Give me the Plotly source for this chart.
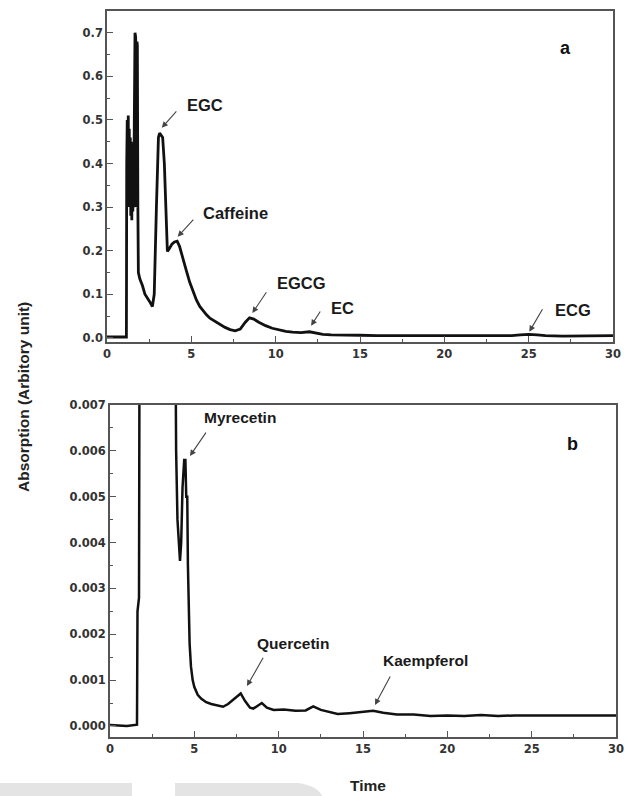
import plotly.graph_objects as go

W, H = 631, 796

# ---------------- data ----------------
time_a = [0, 1.0, 1.15, 1.17, 1.20, 1.23, 1.26, 1.29, 1.32, 1.35, 1.38, 1.41, 1.44, 1.47, 1.50,
          1.53, 1.56, 1.58, 1.60, 1.62, 1.66, 1.70, 1.74, 1.78, 1.80, 1.83, 1.86, 1.95, 2.1,
          2.25, 2.4, 2.55, 2.69, 2.8, 2.93, 3.05, 3.12, 3.2, 3.3, 3.4, 3.5, 3.58, 3.7, 3.85,
          4.0, 4.16, 4.3, 4.5, 4.7, 4.9, 5.1, 5.3, 5.5, 5.7, 5.9, 6.1, 6.4, 6.7, 7.0, 7.3,
          7.6, 7.9, 8.2, 8.45, 8.7, 9.0, 9.4, 9.8, 10.2, 10.6, 11.0, 11.5, 12.0, 12.4, 12.8,
          13.3, 14, 15, 16, 17, 18, 19, 20, 21, 22, 23, 24, 24.5, 25, 25.5, 26, 27, 28, 29, 30]
absorb_a = [0.002, 0.002, 0.002, 0.40, 0.50, 0.36, 0.51, 0.30, 0.48, 0.32, 0.46, 0.28, 0.45, 0.27,
            0.44, 0.29, 0.42, 0.30, 0.40, 0.70, 0.70, 0.69, 0.30, 0.68, 0.67, 0.30, 0.15, 0.135, 0.12,
            0.10, 0.092, 0.082, 0.072, 0.10, 0.30, 0.46, 0.47, 0.465, 0.46, 0.40, 0.27, 0.198, 0.205, 0.215,
            0.22, 0.222, 0.21, 0.185, 0.155, 0.128, 0.105, 0.087, 0.072, 0.062, 0.053, 0.045, 0.038, 0.030, 0.024, 0.019,
            0.016, 0.020, 0.036, 0.046, 0.043, 0.036, 0.028, 0.022, 0.018, 0.015, 0.013, 0.012, 0.014, 0.011, 0.008,
            0.007, 0.006, 0.006, 0.005, 0.005, 0.005, 0.004, 0.004, 0.005, 0.005, 0.004, 0.005, 0.007, 0.008, 0.007, 0.005, 0.004, 0.004, 0.004, 0.005]

time_b = [0, 1.0, 1.6, 1.63, 1.72, 1.75, 3.88, 3.92, 4.0, 4.1, 4.15, 4.22, 4.3, 4.4, 4.47,
          4.52, 4.58, 4.62, 4.66, 4.72, 4.8, 4.9, 5.0, 5.2, 5.4, 5.7, 6.0, 6.3, 6.7, 7.0,
          7.4, 7.75, 8.0, 8.3, 8.5, 8.75, 9.0, 9.3, 9.7, 10.3, 11.0, 11.6, 12.05, 12.5, 13.0,
          13.5, 14.2, 15.0, 15.6, 16.2, 17.0, 18, 19, 20, 21, 22, 23, 24, 25, 26, 27, 28, 29, 30]
absorb_b = [0.00002, 0.0, 0.00003, 0.0025, 0.0028, 0.0085, 0.0085, 0.0060, 0.0045, 0.0037, 0.0036, 0.0040, 0.0052, 0.0058, 0.0058,
            0.0050, 0.0050, 0.0035, 0.0025, 0.0018, 0.0013, 0.0010, 0.00085, 0.00068, 0.0006, 0.00052, 0.00048, 0.00045, 0.00042, 0.00048,
            0.0006, 0.00071, 0.00055, 0.0004, 0.00038, 0.00045, 0.0005, 0.0004, 0.00035, 0.00036, 0.00033, 0.00034, 0.00043, 0.00035, 0.0003,
            0.00026, 0.00028, 0.0003, 0.00033, 0.00029, 0.00025, 0.00025, 0.00022, 0.00023, 0.00022, 0.00024, 0.00022, 0.00023, 0.00023, 0.00022, 0.00022, 0.00023, 0.00022, 0.00023]

x_ticks = [0, 5, 10, 15, 20, 25, 30]
y_ticks_a = [0.0, 0.1, 0.2, 0.3, 0.4, 0.5, 0.6, 0.7]
y_ticklabels_a = ["0.0", "0.1", "0.2", "0.3", "0.4", "0.5", "0.6", "0.7"]
y_ticks_b = [0.000, 0.001, 0.002, 0.003, 0.004, 0.005, 0.006, 0.007]
y_ticklabels_b = ["0.000", "0.001", "0.002", "0.003", "0.004", "0.005", "0.006", "0.007"]

# peak labels: (text, text_x, text_y, tail_x, tail_y, head_x, head_y)
labels_a = [("EGC", 5.79, 0.534, 4.19, 0.523, 3.25, 0.482),
            ("Caffeine", 7.62, 0.287, 5.2, 0.275, 4.19, 0.232),
            ("EGCG", 11.52, 0.126, 9.51, 0.108, 8.62, 0.057),
            ("EC", 13.94, 0.069, 12.7, 0.064, 12.1, 0.028),
            ("ECG", 27.64, 0.064, 25.87, 0.069, 25.04, 0.014)]
labels_b = [("Myrecetin", 7.71, 0.00672, 5.75, 0.00643, 4.74, 0.00589),
            ("Quercetin", 10.85, 0.00180, 9.13, 0.00152, 8.12, 0.00087),
            ("Kaempferol", 18.73, 0.00143, 16.66, 0.00111, 15.71, 0.00046)]

# ---------------- figure ----------------
fig = go.Figure()
fig.add_trace(go.Scatter(x=time_a, y=absorb_a, mode="lines",
                         line=dict(color="#111111", width=2.8), xaxis="x", yaxis="y",
                         showlegend=False))
fig.add_trace(go.Scatter(x=time_b, y=absorb_b, mode="lines",
                         line=dict(color="#111111", width=2.5), xaxis="x2", yaxis="y2",
                         showlegend=False))

tickfont = dict(family="DejaVu Sans", size=11.5, color="#333333", weight="bold")
axis_common = dict(showgrid=False, zeroline=False, showline=True, linecolor="#555555",
                   linewidth=1.6, mirror=True, ticks="inside", ticklen=6, tickwidth=1.4,
                   tickcolor="#555555", tickfont=tickfont, automargin=False)

fig.update_layout(
    template="none",
    width=W, height=H, margin=dict(l=0, r=0, t=0, b=0, pad=0),
    paper_bgcolor="white", plot_bgcolor="white", showlegend=False,
    xaxis=dict(domain=[107 / W, 613 / W], anchor="y", range=[0, 30],
               tickvals=x_ticks, ticktext=[str(v) for v in x_ticks],
               minor=dict(ticks="inside", dtick=2.5, tick0=0, ticklen=3, tickcolor="#555555"),
               **axis_common),
    yaxis=dict(domain=[1 - 342 / H, 1 - 11 / H], anchor="x", range=[-0.0095, 0.75],
               tickvals=y_ticks_a, ticktext=y_ticklabels_a,
               minor=dict(ticks="inside", dtick=0.05, tick0=0, ticklen=3, tickcolor="#555555"),
               **axis_common),
    xaxis2=dict(domain=[110 / W, 616 / W], anchor="y2", range=[0, 30],
                tickvals=x_ticks, ticktext=[str(v) for v in x_ticks],
                minor=dict(ticks="inside", dtick=2.5, tick0=0, ticklen=3, tickcolor="#555555"),
                **axis_common),
    yaxis2=dict(domain=[1 - 737 / H, 1 - 405 / H], anchor="x2", range=[-0.00024, 0.0070],
                tickvals=y_ticks_b, ticktext=y_ticklabels_b,
                minor=dict(ticks="inside", dtick=0.0005, tick0=0, ticklen=3, tickcolor="#555555"),
                **axis_common),
)

ann = []
labfont_a = dict(family="Liberation Sans", size=16.5, color="#1a1a1a", weight="bold")
labfont_b = dict(family="Liberation Sans", size=15.5, color="#1a1a1a", weight="bold")
for (txt, tx, ty, ax_, ay_, hx, hy) in labels_a:
    ann.append(dict(x=tx, y=ty, xref="x", yref="y", text=txt, showarrow=False, font=labfont_a,
                    xanchor="center", yanchor="middle"))
    ann.append(dict(x=hx, y=hy, xref="x", yref="y", ax=ax_, ay=ay_, axref="x", ayref="y",
                    text="", showarrow=True, arrowhead=2, arrowsize=1.1, arrowwidth=1.1,
                    arrowcolor="#444444"))
for (txt, tx, ty, ax_, ay_, hx, hy) in labels_b:
    ann.append(dict(x=tx, y=ty, xref="x2", yref="y2", text=txt, showarrow=False, font=labfont_b,
                    xanchor="center", yanchor="middle"))
    ann.append(dict(x=hx, y=hy, xref="x2", yref="y2", ax=ax_, ay=ay_, axref="x2", ayref="y2",
                    text="", showarrow=True, arrowhead=2, arrowsize=1.1, arrowwidth=1.1,
                    arrowcolor="#444444"))

ann.append(dict(x=27.17, y=0.665, xref="x", yref="y", text="a", showarrow=False,
                xanchor="center", yanchor="middle",
                font=dict(family="Liberation Sans", size=18, color="#111111", weight="bold")))
ann.append(dict(x=27.45, y=0.00615, xref="x2", yref="y2", text="b", showarrow=False,
                xanchor="center", yanchor="middle",
                font=dict(family="Liberation Sans", size=18, color="#111111", weight="bold")))

ann.append(dict(x=23 / W, y=1 - 397 / H, xref="paper", yref="paper", text="Absorption (Arbitory unit)",
                textangle=-90, showarrow=False, xanchor="center", yanchor="middle",
                font=dict(family="Liberation Sans", size=15.5, color="#222222", weight="bold")))
ann.append(dict(x=368 / W, y=1 - 785 / H, xref="paper", yref="paper", text="Time",
                showarrow=False, xanchor="center", yanchor="middle",
                font=dict(family="Liberation Sans", size=15.5, color="#222222", weight="bold")))
fig.update_layout(annotations=ann)

# faint watermark shapes along the bottom edge
fig.add_shape(type="rect", xref="paper", yref="paper", x0=0, x1=132 / W, y0=0, y1=1 - 783 / H,
              fillcolor="#e4e4e4", line=dict(width=0), layer="below")
fig.add_shape(type="path", xref="paper", yref="paper",
              path=f"M {175 / W},{1 - 783 / H} L {298 / W},{1 - 783 / H} Q {318 / W},{1 - 786 / H} {322 / W},0 L {175 / W},0 Z",
              fillcolor="#e4e4e4", line=dict(width=0), layer="below")

fig.write_html("out.html", config={"displayModeBar": False},
               post_script="document.body.style.margin='0';document.body.style.padding='0';"
                           "document.body.style.overflow='hidden';")
